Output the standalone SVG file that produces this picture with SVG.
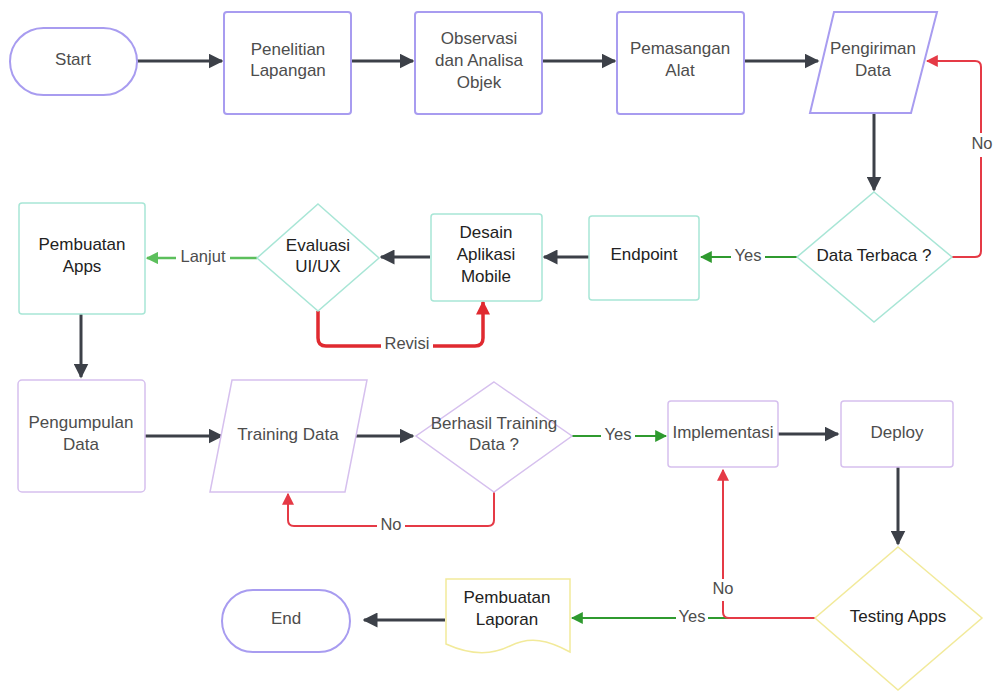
<svg xmlns="http://www.w3.org/2000/svg" width="997" height="693" viewBox="0 0 997 693">
<style>
text{font-family:"Liberation Sans",Arial,sans-serif;font-size:17px;text-anchor:middle;dominant-baseline:middle}
.t1{fill:#4d4d4d}
.t2{fill:#222}
.lbl{fill:#4d4d4d;font-size:16.5px}
.p{fill:#fff;stroke:#a89cf0;stroke-width:2}
.g{fill:#fff;stroke:#a8e6d6;stroke-width:1.5}
.v{fill:#fff;stroke:#d6c0ee;stroke-width:1.5}
.y{fill:#fff;stroke:#f2ea9a;stroke-width:1.5}
.dk{fill:none;stroke:#3c4048;stroke-width:3}
.gr{fill:none;stroke:#2f9a2f;stroke-width:2}
.lg{fill:none;stroke:#5cbf5c;stroke-width:2.5}
.rd{fill:none;stroke:#e53a46;stroke-width:2}
.rdb{fill:none;stroke:#e02a30;stroke-width:3.5}
.bg{fill:#fff}
</style>
<defs>
<marker id="aDk" viewBox="0 0 10 10" refX="9" refY="5" markerWidth="5" markerHeight="5" orient="auto" markerUnits="strokeWidth"><path d="M0,0L10,5L0,10z" fill="#3c4048"/></marker>
<marker id="aGr" viewBox="0 0 10 10" refX="9" refY="5" markerWidth="6" markerHeight="6" orient="auto" markerUnits="strokeWidth"><path d="M0,0L10,5L0,10z" fill="#2f9a2f"/></marker>
<marker id="aLg" viewBox="0 0 10 10" refX="9" refY="5" markerWidth="5" markerHeight="5" orient="auto" markerUnits="strokeWidth"><path d="M0,0L10,5L0,10z" fill="#5cbf5c"/></marker>
<marker id="aRd" viewBox="0 0 10 10" refX="9" refY="5" markerWidth="6" markerHeight="6" orient="auto" markerUnits="strokeWidth"><path d="M0,0L10,5L0,10z" fill="#e53a46"/></marker>
<marker id="aRdb" viewBox="0 0 10 10" refX="9" refY="5" markerWidth="4" markerHeight="4" orient="auto" markerUnits="strokeWidth"><path d="M0,0L10,5L0,10z" fill="#e02a30"/></marker>
</defs>
<rect width="997" height="693" fill="#fff"/>

<g id="connectors">
<path class="dk" d="M137,61H222" marker-end="url(#aDk)"/>
<path class="dk" d="M351,61H413" marker-end="url(#aDk)"/>
<path class="dk" d="M542,61H615" marker-end="url(#aDk)"/>
<path class="dk" d="M744,61H818" marker-end="url(#aDk)"/>
<path class="dk" d="M874,114V190" marker-end="url(#aDk)"/>
<path class="rd" d="M952,257H975Q981,257 981,251V67Q981,61 975,61H927" marker-end="url(#aRd)"/>
<path class="gr" d="M797,257H701" marker-end="url(#aGr)"/>
<path class="dk" d="M589,257H544" marker-end="url(#aDk)"/>
<path class="dk" d="M430,257H381" marker-end="url(#aDk)"/>
<path class="lg" d="M257,258H147" marker-end="url(#aLg)"/>
<path class="rdb" d="M318,311V338Q318,346 326,346H475Q483,346 483,338V302" marker-end="url(#aRdb)"/>
<path class="dk" d="M81,314V377" marker-end="url(#aDk)"/>
<path class="dk" d="M145,436H222" marker-end="url(#aDk)"/>
<path class="dk" d="M352,436H413" marker-end="url(#aDk)"/>
<path class="gr" d="M572,436H666" marker-end="url(#aGr)"/>
<path class="rd" d="M494,492V520Q494,526 488,526H294Q288,526 288,520V494" marker-end="url(#aRd)"/>
<path class="dk" d="M778,434H838" marker-end="url(#aDk)"/>
<path class="dk" d="M898,467V544" marker-end="url(#aDk)"/>
<path class="gr" d="M815,618H572" marker-end="url(#aGr)"/>
<path class="rd" d="M815,618H729Q723,618 723,612V470" marker-end="url(#aRd)"/>
<path class="dk" d="M445,620H364" marker-end="url(#aDk)"/>
</g>

<g id="edge-labels">
<rect class="bg" x="968" y="133" width="28" height="24"/><text class="lbl" x="982" y="145">No</text>
<rect class="bg" x="731" y="248" width="34" height="18"/><text class="lbl" x="748" y="257">Yes</text>
<rect class="bg" x="176" y="249" width="54" height="18"/><text class="lbl" x="203" y="258">Lanjut</text>
<rect class="bg" x="381" y="336" width="52" height="18"/><text class="lbl" x="407" y="345">Revisi</text>
<rect class="bg" x="601" y="427" width="34" height="18"/><text class="lbl" x="618" y="436">Yes</text>
<rect class="bg" x="377" y="517" width="28" height="18"/><text class="lbl" x="391" y="526">No</text>
<rect class="bg" x="709" y="579" width="28" height="22"/><text class="lbl" x="723" y="590">No</text>
<rect class="bg" x="676" y="609" width="32" height="18"/><text class="lbl" x="692" y="618">Yes</text>
</g>

<g id="start"><rect class="p" x="10" y="28" width="127" height="67" rx="33.5"/><text class="t1" x="73" y="61">Start</text></g>
<g id="penelitian"><rect class="p" x="224" y="12" width="127" height="102" rx="3"/><text class="t1" x="288" y="51">Penelitian</text><text class="t1" x="288" y="72">Lapangan</text></g>
<g id="observasi"><rect class="p" x="415" y="12" width="127" height="102" rx="3"/><text class="t1" x="479" y="40">Observasi</text><text class="t1" x="479" y="62">dan Analisa</text><text class="t1" x="479" y="84">Objek</text></g>
<g id="pemasangan"><rect class="p" x="617" y="12" width="127" height="102" rx="3"/><text class="t1" x="680" y="50">Pemasangan</text><text class="t1" x="680" y="72">Alat</text></g>
<g id="pengiriman"><path class="p" d="M834,12H937L911,113H810Z"/><text class="t1" x="873" y="50">Pengiriman</text><text class="t1" x="873" y="72">Data</text></g>
<g id="data-terbaca"><path class="g" d="M874,192L952,257L874,322L797,257Z"/><text class="t2" x="874" y="257">Data Terbaca ?</text></g>
<g id="endpoint"><rect class="g" x="589" y="216" width="110" height="84" rx="3"/><text class="t2" x="644" y="256">Endpoint</text></g>
<g id="desain"><rect class="g" x="431" y="214" width="111" height="87" rx="3"/><text class="t2" x="486" y="234">Desain</text><text class="t2" x="486" y="256">Aplikasi</text><text class="t2" x="486" y="278">Mobile</text></g>
<g id="evaluasi"><path class="g" d="M318,204L379,258L318,311L257,258Z"/><text class="t2" x="318" y="247">Evaluasi</text><text class="t2" x="318" y="268">UI/UX</text></g>
<g id="pembuatan-apps"><rect class="g" x="19" y="203" width="126" height="111" rx="3"/><text class="t2" x="82" y="246">Pembuatan</text><text class="t2" x="82" y="268">Apps</text></g>
<g id="pengumpulan"><rect class="v" x="18" y="380" width="127" height="112" rx="4"/><text class="t1" x="81" y="424">Pengumpulan</text><text class="t1" x="81" y="446">Data</text></g>
<g id="training"><path class="v" d="M232,380H367L345,492H210Z"/><text class="t1" x="288" y="436">Training Data</text></g>
<g id="berhasil"><path class="v" d="M494,382L572,436L494,492L416,436Z"/><text class="t1" x="494" y="425">Berhasil Training</text><text class="t1" x="494" y="446">Data ?</text></g>
<g id="implementasi"><rect class="v" x="668" y="401" width="110" height="66" rx="3"/><text class="t1" x="723" y="434">Implementasi</text></g>
<g id="deploy"><rect class="v" x="841" y="401" width="112" height="66" rx="3"/><text class="t1" x="897" y="434">Deploy</text></g>
<g id="testing"><path class="y" d="M898,547L982,618L898,690L815,618Z"/><text class="t2" x="898" y="618">Testing Apps</text></g>
<g id="laporan"><path class="y" d="M446,579H570V652C548,640 530,636 510,646C490,656 468,654 446,644Z"/><text class="t2" x="507" y="599">Pembuatan</text><text class="t2" x="507" y="621">Laporan</text></g>
<g id="end"><rect class="p" x="222" y="590" width="128" height="62" rx="31"/><text class="t1" x="286" y="620">End</text></g>
</svg>
